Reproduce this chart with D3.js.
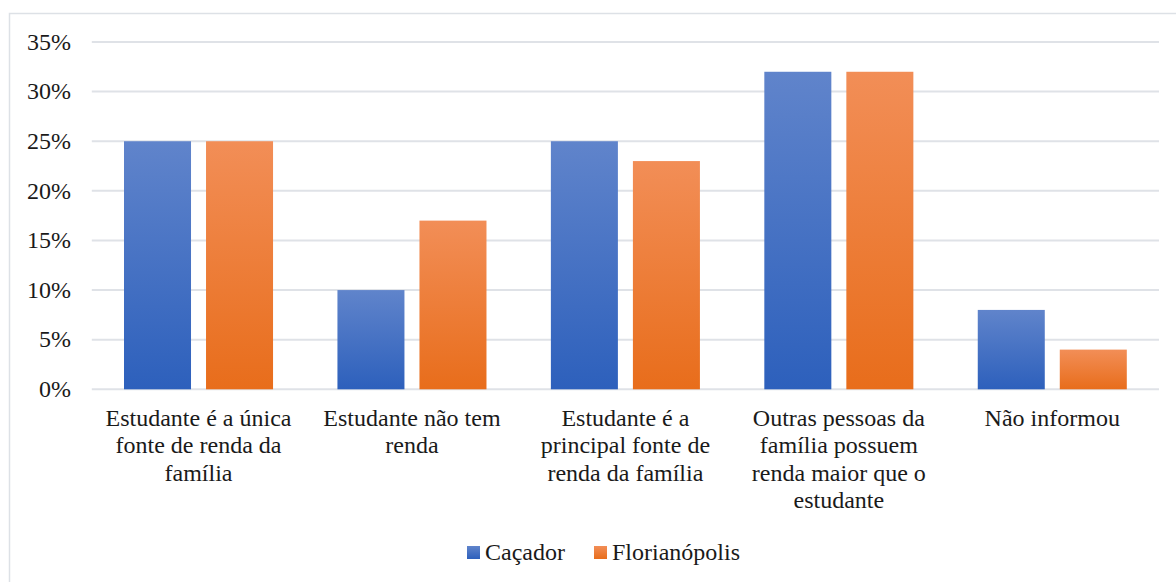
<!DOCTYPE html>
<html>
<head>
<meta charset="utf-8">
<script src="https://cdn.jsdelivr.net/npm/d3@7"></script>
</head>
<body style="margin:0">
<svg id="chart" width="1176" height="582" style="display:block" font-family="Liberation Serif"></svg>
<script>
// Category labels (line breaks as they wrap under each group)
const categories = [
  "Estudante é a única\nfonte de renda da\nfamília",
  "Estudante não tem\nrenda",
  "Estudante é a\nprincipal fonte de\nrenda da família",
  "Outras pessoas da\nfamília possuem\nrenda maior que o\nestudante",
  "Não informou"
];
const seriesNames = ["Caçador", "Florianópolis"];
const cacador = [25, 10, 25, 32, 8];
const florianopolis = [25, 17, 23, 32, 4];
const yTicks = [0, 5, 10, 15, 20, 25, 30, 35];

const fontFor = () => '"Liberation Serif"';
const INK = "#1a1a1a";

const svg = d3.select("#chart");
const plot = { left: 91.8, right: 1159, top: 42, bottom: 389.3 };

// Vertical gradients for the two series
const defs = svg.append("defs");
const grads = [
  { id: "gBlue", top: "#6084cb", bottom: "#2d60bc" },
  { id: "gOrange", top: "#f28e57", bottom: "#e86d1b" }
];
grads.forEach(g => {
  const lg = defs.append("linearGradient").attr("id", g.id)
    .attr("x1", 0).attr("y1", 0).attr("x2", 0).attr("y2", 1);
  lg.append("stop").attr("offset", "0%").attr("stop-color", g.top);
  lg.append("stop").attr("offset", "100%").attr("stop-color", g.bottom);
});
const fills = ["url(#gBlue)", "url(#gOrange)"];

// Outer chart border
svg.append("rect")
  .attr("x", 9.5).attr("y", 13.5)
  .attr("width", 1180).attr("height", 600)
  .attr("fill", "none").attr("stroke", "#dde1e6").attr("stroke-width", 1.5);

const x0 = d3.scaleBand()
  .domain(d3.range(categories.length))
  .range([plot.left, plot.right])
  .paddingInner(0).paddingOuter(0);

const x1 = d3.scaleBand()
  .domain([0, 1])
  .range([32.2, x0.bandwidth() - 32.2])
  .paddingInner(0.183);

const y = d3.scaleLinear().domain([0, 35]).range([plot.bottom, plot.top]);

// Horizontal gridlines
svg.append("g").selectAll("line").data(yTicks).join("line")
  .attr("x1", plot.left).attr("x2", plot.right)
  .attr("y1", d => y(d)).attr("y2", d => y(d))
  .attr("stroke", "#dfe2e7").attr("stroke-width", 2);

// Y axis labels (plain text elements placed with the scale)
svg.append("g").selectAll("text").data(yTicks).join("text")
  .attr("x", 71).attr("y", d => y(d)).attr("dy", "0.32em")
  .attr("text-anchor", "end")
  .style("font-family", fontFor)
  .attr("font-size", 24)
  .attr("fill", INK)
  .text(d => d + "%");

// Bars
const series = [cacador, florianopolis];
const groups = svg.append("g").selectAll("g").data(categories).join("g")
  .attr("transform", (d, i) => `translate(${x0(i)},0)`);
groups.selectAll("rect")
  .data((d, i) => series.map((s, k) => ({ k, v: s[i] })))
  .join("rect")
  .attr("x", d => x1(d.k))
  .attr("width", x1.bandwidth())
  .attr("y", d => y(d.v))
  .attr("height", d => y(0) - y(d.v))
  .attr("fill", d => fills[d.k]);

// Category labels, one tspan per line
const labels = svg.append("g").selectAll("text").data(categories).join("text")
  .attr("text-anchor", "middle")
  .style("font-family", fontFor)
  .attr("font-size", 24)
  .attr("fill", INK)
  .attr("x", (d, i) => x0(i) + x0.bandwidth() / 2)
  .attr("y", 426);
labels.each(function (d) {
  const t = d3.select(this);
  const cx = t.attr("x");
  d.split("\n").forEach((line, j) => {
    t.append("tspan").attr("x", cx).attr("dy", j === 0 ? 0 : 27.3).text(line);
  });
});

// Legend
const legendItems = [
  { name: seriesNames[0], sx: 467 },
  { name: seriesNames[1], sx: 594 }
];
const lg = svg.append("g").selectAll("g").data(legendItems).join("g");
lg.append("rect")
  .attr("x", d => d.sx).attr("y", 546)
  .attr("width", 13).attr("height", 13)
  .attr("fill", (d, i) => fills[i]);
lg.append("text")
  .attr("x", d => d.sx + 18).attr("y", 560)
  .style("font-family", fontFor)
  .attr("font-size", 24)
  .attr("fill", INK)
  .text(d => d.name);
</script>
</body>
</html>
